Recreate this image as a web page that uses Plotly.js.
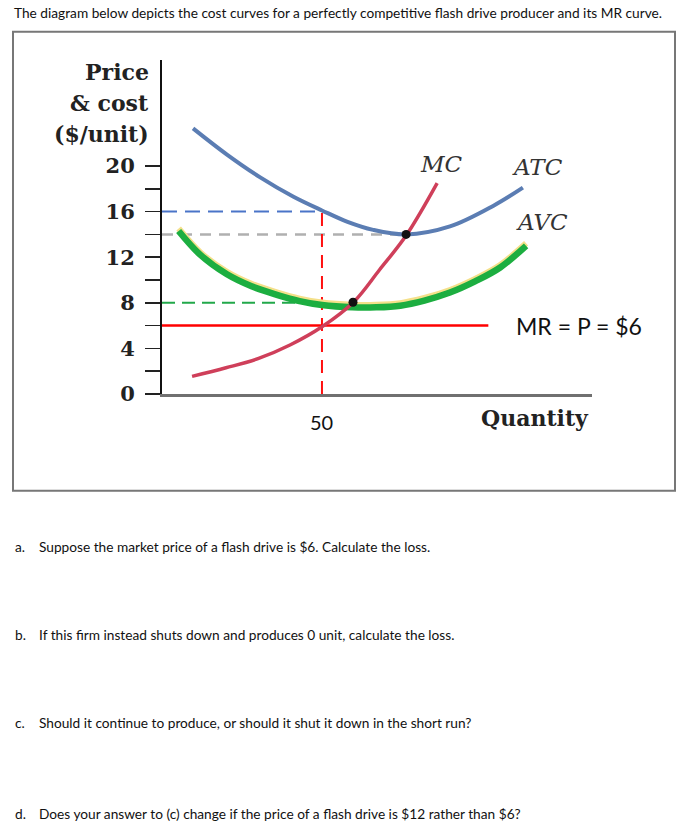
<!DOCTYPE html>
<html>
<head>
<meta charset="utf-8">
<script src="https://cdn.plot.ly/plotly-3.0.1.min.js"></script>
<style>html,body{margin:0;padding:0;background:#fff;}#chart{width:690px;height:824px;}</style>
</head>
<body>
<div id="chart"></div>
<script>
// ---- data ----
const mcQ  = [9.4, 20, 30, 40, 50, 60, 68, 76.3, 86];
const mcP  = [1.55, 2.3, 3.1, 4.3, 5.9, 8.1, 10.9, 13.9, 18.5];
const atcQ = [9.7, 20.3, 30.7, 41.1, 50, 58, 66, 76.3, 90, 103.5, 112.8];
const atcP = [23.3, 21.0, 19.0, 17.3, 16.1, 15.1, 14.4, 14.0, 14.7, 16.5, 18.1];
const avcQ = [5.2, 12, 20.3, 28, 35.9, 43, 50, 59.5, 67, 74.5, 82, 90, 98, 105.7, 113.8];
const avcP = [14.3, 12.2, 10.5, 9.45, 8.7, 8.15, 7.8, 7.6, 7.6, 7.75, 8.2, 8.9, 9.9, 11.1, 13.0];
const mrQ  = [0, 102];
const mrP  = [6, 6];
const dotQ = [59.7, 76.3];
const dotP = [8.05, 14.0];
const qStar = 50;
const atcAtQ = 16;
const atcMin = 14;
const atcMinQ = 76.3;
const avcLevel = 8;
const avcGuideQ = 46;
const yTickVals = [0, 2, 4, 6, 8, 10, 12, 14, 16, 18, 20];
const yTickText = ['0', '', '4', '', '8', '', '12', '', '16', '', '20'];
const questions = [
  ['a.', 'Suppose the market price of a flash drive is $6. Calculate the loss.'],
  ['b.', 'If this firm instead shuts down and produces 0 unit, calculate the loss.'],
  ['c.', 'Should it continue to produce, or should it shut it down in the short run?'],
  ['d.', 'Does your answer to (c) change if the price of a flash drive is $12 rather than $6?']
];
const titleText = 'The diagram below depicts the cost curves for a perfectly competitive flash drive producer and its MR curve.';

// ---- layout helpers (pixel -> paper) ----
const W = 690, H = 824, L = 162, R = 98, T = 60, B = 430;
const px = x => (x - L) / (W - L - R);
const py = y => (H - B - y) / (H - T - B);

const serif = 'DejaVu Serif';
const sans = 'Lato, "Open Sans", sans-serif';

const traces = [
  {x: [0, qStar], y: [atcAtQ, atcAtQ], mode: 'lines', line: {color: '#4a74c8', width: 2, dash: '15px,8px'}},
  {x: [0, atcMinQ], y: [atcMin, atcMin], mode: 'lines', line: {color: '#b0b0b0', width: 2.5, dash: '11px,8px'}},
  {x: [0, avcGuideQ], y: [avcLevel, avcLevel], mode: 'lines', line: {color: '#22a84a', width: 2, dash: '13px,7px'}},
  {x: [qStar, qStar], y: [0, atcAtQ], mode: 'lines', line: {color: '#ff1010', width: 2, dash: '13px,8px'}},
  {x: mrQ, y: mrP, mode: 'lines', line: {color: '#ff0000', width: 2.5}},
  {x: atcQ, y: atcP, mode: 'lines', line: {color: '#5b7db3', width: 4, shape: 'spline', smoothing: 1}},
  {x: avcQ, y: avcP.map(v => v + 0.22), mode: 'lines', line: {color: '#f4e08a', width: 6, shape: 'spline', smoothing: 1}},
  {x: avcQ, y: avcP, mode: 'lines', line: {color: '#1cae40', width: 6.5, shape: 'spline', smoothing: 1}},
  {x: mcQ, y: mcP, mode: 'lines', line: {color: '#cf3f5a', width: 3.5, shape: 'spline', smoothing: 1}},
  {x: dotQ, y: dotP, mode: 'markers', marker: {color: '#111', size: 9}}
];

const ann = [];
function paperText(text, x, y, xanchor, font) {
  ann.push({text, x: px(x), y: py(y), xref: 'paper', yref: 'paper', xanchor, yanchor: 'middle', showarrow: false, font});
}
function dataText(text, x, y, font) {
  ann.push({text, x, y, xref: 'x', yref: 'y', xanchor: 'center', yanchor: 'middle', showarrow: false, font});
}
paperText(titleText, 12, 13, 'left', {family: sans, size: 13.7, color: '#111'});
paperText('Price', 151, 72, 'right', {family: serif, size: 22, color: '#222', weight: 'bold'});
paperText('&amp; cost', 151, 103, 'right', {family: serif, size: 22, color: '#222', weight: 'bold'});
paperText('($/unit)', 151, 134, 'right', {family: serif, size: 22, color: '#222', weight: 'bold'});
dataText('MC', 87.4, 20.2, {family: serif, size: 23, color: '#333', style: 'italic'});
dataText('ATC', 117.5, 19.9, {family: serif, size: 23, color: '#333', style: 'italic'});
dataText('AVC', 118.7, 15.1, {family: serif, size: 23, color: '#333', style: 'italic'});
dataText('MR = P = $6', 130.3, 6.0, {family: sans, size: 23, color: '#111'});
paperText('Quantity', 535, 417.5, 'center', {family: serif, size: 22, color: '#222', weight: 'bold'});
ann.push({text: String(qStar), x: qStar, y: py(422), xref: 'x', yref: 'paper', xanchor: 'center', yanchor: 'middle',
          showarrow: false, font: {family: sans, size: 20, color: '#111'}});
const qY = [546, 634, 722, 813];
questions.forEach((q, i) => {
  paperText(q[0], 13, qY[i], 'left', {family: sans, size: 13.7, color: '#111'});
  paperText(q[1], 37, qY[i], 'left', {family: sans, size: 13.7, color: '#111'});
});

const layout = {
  width: W, height: H,
  margin: {l: L, r: R, t: T, b: B, pad: 0},
  paper_bgcolor: '#fff', plot_bgcolor: '#fff',
  showlegend: false,
  xaxis: {range: [0, 134.4], showline: true, linecolor: '#707070', linewidth: 3,
          showgrid: false, zeroline: false, showticklabels: false, ticks: ''},
  yaxis: {range: [0, 29.3], showline: true, linecolor: '#111', linewidth: 2,
          showgrid: false, zeroline: false, ticks: 'outside', ticklen: 15, tickwidth: 1.5, tickcolor: '#222',
          tickmode: 'array', tickvals: yTickVals, ticktext: yTickText, ticklabelstandoff: 6,
          tickfont: {family: serif, size: 21, color: '#222', weight: 'bold'}},
  shapes: [{type: 'rect', xref: 'paper', yref: 'paper', x0: px(13), x1: px(675), y0: py(31.7), y1: py(490.7),
            line: {color: '#777', width: 2}, fillcolor: 'rgba(0,0,0,0)', layer: 'below'}],
  annotations: ann
};
Plotly.newPlot('chart', traces, layout, {displayModeBar: false, staticPlot: true});
</script>
</body>
</html>
